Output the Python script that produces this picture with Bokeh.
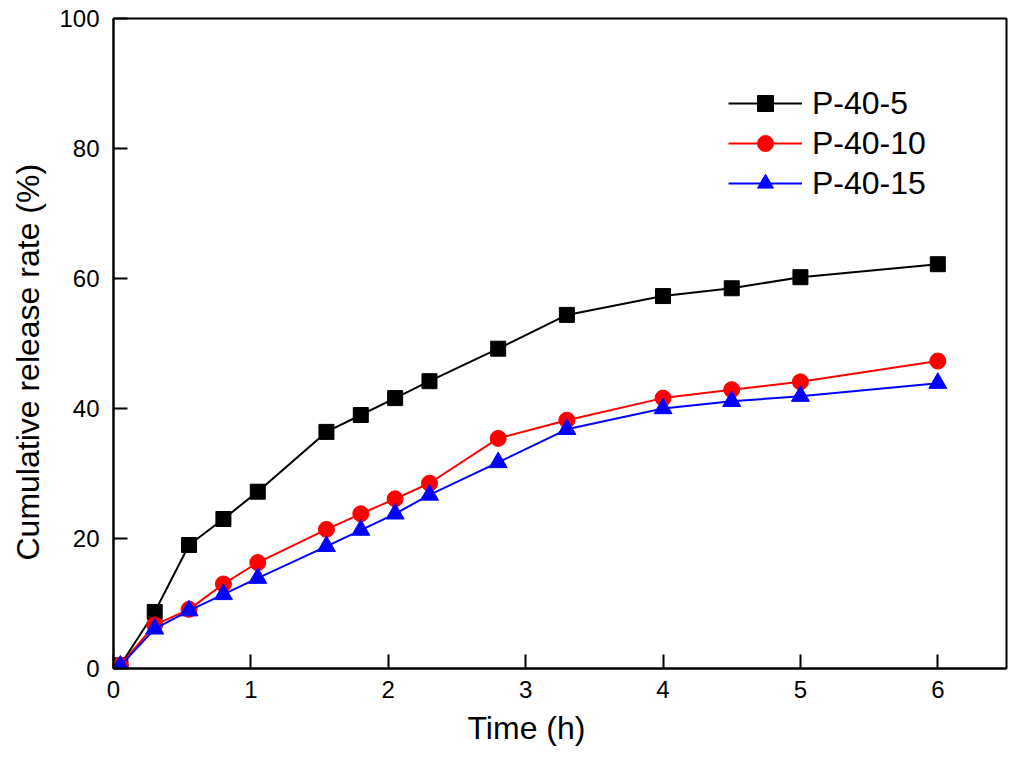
from bokeh.plotting import figure
from bokeh.models import Range1d, FixedTicker, Legend, LegendItem, Title
from bokeh.embed import file_html
from bokeh.resources import INLINE

# ── Data ─────────────────────────────────────────────────────────
time_h = [0.05, 0.3, 0.55, 0.8, 1.05, 1.55, 1.8, 2.05, 2.3, 2.8, 3.3, 4, 4.5, 5, 6]
p40_5 = [0.5, 8.7, 19.0, 23.0, 27.2, 36.4, 39.0, 41.6, 44.2, 49.2, 54.4, 57.3, 58.5, 60.2, 62.2]
p40_10 = [0.5, 6.7, 9.1, 13.0, 16.3, 21.4, 23.8, 26.1, 28.5, 35.4, 38.2, 41.6, 42.9, 44.1, 47.3]
p40_15 = [0.4, 6.1, 8.9, 11.4, 13.9, 18.8, 21.3, 23.8, 26.7, 31.7, 36.8, 40.0, 41.1, 41.9, 43.9]

x_ticks = [0, 1, 2, 3, 4, 5, 6]
y_ticks = [0, 20, 40, 60, 80, 100]

FONT = "Liberation Sans"

p = figure(
    width=1008, height=752,
    x_range=Range1d(0, 6.5), y_range=Range1d(0, 100),
    toolbar_location=None, output_backend="svg",
)
p.min_border_left = 113
p.min_border_right = 2
p.min_border_top = 18
p.min_border_bottom = 84

p.grid.visible = False
p.outline_line_color = "black"
p.outline_line_width = 2
p.background_fill_color = "white"
p.border_fill_color = "white"

for ax in (p.xaxis, p.yaxis):
    ax.axis_line_color = "black"
    ax.axis_line_width = 2
    ax.major_tick_line_color = "black"
    ax.major_tick_line_width = 2
    ax.major_tick_in = 14
    ax.major_tick_out = 0
    ax.minor_tick_line_color = None
    ax.major_label_text_font = FONT
    ax.major_label_text_font_size = "24px"
    ax.major_label_text_color = "black"

p.xaxis.ticker = FixedTicker(ticks=x_ticks)
p.yaxis.ticker = FixedTicker(ticks=y_ticks)
p.xaxis.major_label_standoff = 12
p.yaxis.major_label_standoff = 14

# axis titles, placed off-centre like the original
p.add_layout(Title(text="Time (h)", align="left", offset=354, standoff=14,
                   text_font=FONT, text_font_size="32px",
                   text_font_style="normal", text_color="black"), "below")
p.add_layout(Title(text="Cumulative release rate (%)", align="left", offset=108,
                   standoff=17, vertical_align="top", text_font=FONT,
                   text_font_size="32px", text_font_style="normal",
                   text_color="black"), "left")

# ── Series ───────────────────────────────────────────────────────
series = [
    ("P-40-5", p40_5, "#000000", "square", 15),
    ("P-40-10", p40_10, "#ff0000", "circle", 16),
    ("P-40-15", p40_15, "#0000ff", "triangle", 18),
]

items = []
for name, ys, color, marker, size in series:
    ln = p.line(time_h, ys, line_color=color, line_width=2)
    sc = p.scatter(time_h, ys, marker=marker, size=size,
                   fill_color=color, line_color=color)
    items.append(LegendItem(label=name, renderers=[ln, sc]))

legend = Legend(
    items=items, location=(615, 465),
    glyph_width=74, glyph_height=40, label_height=40,
    label_standoff=10, spacing=0, padding=0, margin=0,
    label_text_font=FONT, label_text_font_size="32px",
    label_text_color="black",
    border_line_color=None, background_fill_alpha=0,
)
p.add_layout(legend)

open("out.html", "w").write(file_html(p, INLINE))
